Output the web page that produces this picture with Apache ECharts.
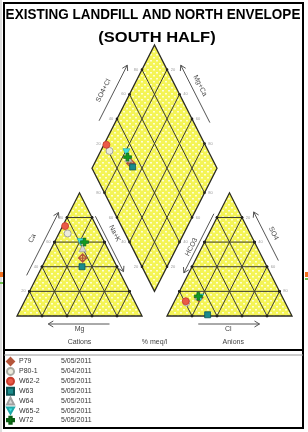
<!DOCTYPE html>
<html>
<head>
<meta charset="utf-8">
<script src="https://cdn.jsdelivr.net/npm/echarts@6/dist/echarts.min.js"></script>
<style>
  html, body { margin: 0; padding: 0; background: #fff; }
  #piper { width: 308px; height: 432px; }
</style>
</head>
<body>
<div id="piper"></div>
<script>
// samples, legend order
var samples = ['P79', 'P80-1', 'W62-2', 'W63', 'W64', 'W65-2', 'W72'];
var dates = ['5/05/2011', '5/04/2011', '5/05/2011', '5/05/2011', '5/05/2011', '5/05/2011', '5/05/2011'];
// cations, % meq/l
var ca = [47, 67, 73, 40, 55, 60, 60];
var mg = [24, 26, 25, 28, 20, 19, 16];
var naK = [29, 7, 2, 32, 25, 21, 24];
// anions, % meq/l
var so4 = [15, 11, 12, 1, 16, 15, 16];
var cl = [18, 10, 9, 32, 17, 19, 17];
var hco3 = [67, 79, 79, 67, 67, 66, 67];
var ticks = [20, 40, 60, 80];

var H = Math.sqrt(3) / 2;
var GAP = 20;

/* ternary -> plot units */
function cationXY(c, m, n) { return [n + c / 2, c * H]; }
function anionXY(s, c) { return [100 + GAP + c + s / 2, s * H]; }
var dB = [100 + GAP / 2, GAP * H];
function diamondXY(n, s) {
	return [dB[0] - (100 - n) / 2 + s / 2, dB[1] + H * ((100 - n) + s)];
}

var CAT = [[0, 0], [100, 0], [50, 100 * H]];
var ANI = [[100 + GAP, 0], [200 + GAP, 0], [150 + GAP, 100 * H]];
var DIA = [dB, [dB[0] - 50, dB[1] + 100 * H], [dB[0], dB[1] + 200 * H], [dB[0] + 50, dB[1] + 100 * H]];

function gridSegments() {
	var s = [];
	ticks.forEach(function (k) {
		s.push([cationXY(k, 100 - k, 0), cationXY(k, 0, 100 - k)]);
		s.push([cationXY(0, k, 100 - k), cationXY(100 - k, k, 0)]);
		s.push([cationXY(0, 100 - k, k), cationXY(100 - k, 0, k)]);
		s.push([anionXY(k, 0), anionXY(k, 100 - k)]);
		s.push([anionXY(0, k), anionXY(100 - k, k)]);
		s.push([anionXY(0, 100 - k), anionXY(100 - k, 0)]);
		s.push([diamondXY(k, 0), diamondXY(k, 100)]);
		s.push([diamondXY(0, k), diamondXY(100, k)]);
	});
	return s;
}

/* yellow fill with little white dots */
var tile = document.createElement('canvas');
tile.width = 6; tile.height = 6;
var tc = tile.getContext('2d');
tc.fillStyle = '#f4f456';
tc.fillRect(0, 0, 6, 6);
tc.fillStyle = '#fdfdd6';
tc.fillRect(0, 0, 2, 1.5);
tc.fillRect(3, 3, 2, 1.5);

// axis captions along edges: arrow t from->to (head at 'to'), label t, arrow/label offsets in px
var edgeText = [
	{ e: [CAT[0], CAT[1]], c: CAT, txt: 'Mg', a: [0.74, 0.25], lt: 0.5, ao: 8, lo: 13, flat: true },
	{ e: [ANI[0], ANI[1]], c: ANI, txt: 'Cl', a: [0.25, 0.74], lt: 0.49, ao: 8, lo: 13, flat: true },
	{ e: [CAT[0], CAT[2]], c: CAT, txt: 'Ca', a: [0.33, 0.84], lt: 0.63, ao: 11, lo: 24 },
	{ e: [CAT[2], CAT[1]], c: CAT, txt: 'Na+K', a: [0.19, 0.64], lt: 0.33, ao: 4, lo: 14.5 },
	{ e: [ANI[0], ANI[2]], c: ANI, txt: 'HCO3', a: [0.83, 0.35], lt: 0.56, ao: 5, lo: 10.5 },
	{ e: [ANI[2], ANI[1]], c: ANI, txt: 'SO4', a: [0.55, 0.155], lt: 0.33, ao: 14.5, lo: 23.5 },
	{ e: [DIA[1], DIA[2]], c: DIA, txt: 'SO4+Cl', a: [0.385, 0.836], lt: 0.63, ao: 17, lo: 28 },
	{ e: [DIA[2], DIA[3]], c: DIA, txt: 'Mg+Ca', a: [0.63, 0.164], lt: 0.33, ao: 16, lo: 25 }
];

function centroid(pts) {
	var x = 0, y = 0;
	pts.forEach(function (p) { x += p[0]; y += p[1]; });
	return [x / pts.length, y / pts.length];
}

function renderFrame(params, api) {
	var P = function (p) { return api.coord(p); };
	var kids = [];
	var fill = { image: tile, repeat: 'repeat' };
	[CAT, ANI, DIA].forEach(function (poly) {
		kids.push({ type: 'polygon', shape: { points: poly.map(P) }, style: { fill: fill, stroke: null } });
	});
	gridSegments().forEach(function (sg) {
		var a = P(sg[0]), b = P(sg[1]);
		kids.push({ type: 'line', shape: { x1: a[0], y1: a[1], x2: b[0], y2: b[1] }, style: { stroke: '#3a3a30', lineWidth: 1 } });
		[a, b].forEach(function (d) {
			kids.push({ type: 'circle', shape: { cx: d[0], cy: d[1], r: 1.3 }, style: { fill: '#111' } });
		});
	});
	[CAT, ANI, DIA].forEach(function (poly) {
		kids.push({ type: 'polygon', shape: { points: poly.map(P) }, style: { fill: null, stroke: '#2a2a22', lineWidth: 1.3 } });
	});

	// point on an edge at fraction t, pushed outward horizontally (or down for flat edges)
	function place(e, t, off, flat) {
		var p0 = P(e.e[0]), p1 = P(e.e[1]), c = P(centroid(e.c));
		var x = p0[0] + (p1[0] - p0[0]) * t, y = p0[1] + (p1[1] - p0[1]) * t;
		if (flat) {
			return [x, y + (y > c[1] ? off : -off)];
		}
		return [x + (x > c[0] ? off : -off), y];
	}

	edgeText.forEach(function (e) {
		var a = place(e, e.a[0], e.ao, e.flat), b = place(e, e.a[1], e.ao, e.flat);
		var dx = b[0] - a[0], dy = b[1] - a[1], len = Math.sqrt(dx * dx + dy * dy);
		var ux = dx / len, uy = dy / len;
		kids.push({ type: 'line', shape: { x1: a[0], y1: a[1], x2: b[0], y2: b[1] }, style: { stroke: '#555', lineWidth: 1 } });
		kids.push({
			type: 'polyline',
			shape: { points: [[b[0] - ux * 5 - uy * 3, b[1] - uy * 5 + ux * 3], b, [b[0] - ux * 5 + uy * 3, b[1] - uy * 5 - ux * 3]] },
			style: { stroke: '#555', fill: null, lineWidth: 1 }
		});
		var lp = place(e, e.lt, e.lo, e.flat);
		var p0 = P(e.e[0]), p1 = P(e.e[1]);
		var rot = e.flat ? 0 : Math.atan2(p0[1] - p1[1], p1[0] - p0[0]);
		kids.push({
			type: 'text', x: lp[0], y: lp[1], rotation: rot,
			style: { text: e.txt, fill: '#444', font: '7px "Liberation Sans", Arial', align: 'center', verticalAlign: 'middle' }
		});
	});

	// small percent labels outside the outer edges
	var tickEdges = [
		{ e: [CAT[0], CAT[2]], c: CAT }, { e: [ANI[2], ANI[1]], c: ANI },
		{ e: [DIA[1], DIA[2]], c: DIA }, { e: [DIA[2], DIA[3]], c: DIA },
		{ e: [DIA[0], DIA[1]], c: DIA }, { e: [DIA[0], DIA[3]], c: DIA }
	];
	tickEdges.forEach(function (e) {
		ticks.forEach(function (k) {
			var p = place(e, k / 100, 6);
			kids.push({ type: 'text', x: p[0], y: p[1], style: { text: String(k), fill: '#999', font: '4px "Liberation Sans", Arial', align: 'center', verticalAlign: 'middle' } });
		});
	});

	var base = { e: [CAT[0], CAT[1]], c: CAT };
	var aBase = { e: [ANI[0], ANI[1]], c: ANI };
	var bottom = [[place(base, 0.5, 26, true), 'Cations'], [place(aBase, 0.53, 26, true), 'Anions'], [place(base, 1.1, 26, true), '% meq/l']];
	bottom.forEach(function (b) {
		kids.push({ type: 'text', x: b[0][0], y: b[0][1], style: { text: b[1], fill: '#444', font: '7px "Liberation Sans", Arial', align: 'center', verticalAlign: 'middle' } });
	});

	return { type: 'group', children: kids };
}

var looks = {
	'P79': { symbol: 'path://M0,-6L6,0L0,6L-6,0Z M0,-6L0,6 M-6,0L6,0', size: 8, color: 'rgba(255,255,255,0)', border: '#b4553a', bw: 1.4 },
	'P80-1': { symbol: 'circle', size: 7, color: '#ecebdc', border: '#a8a8a0', bw: 1 },
	'W62-2': { symbol: 'circle', size: 7, color: '#ea5a48', border: '#c83c2c', bw: 0.8 },
	'W63': { symbol: 'rect', size: 6, color: '#1b8b8b', border: '#0c5555', bw: 0.8 },
	'W64': { symbol: 'triangle', size: 7, color: '#d6d6d6', border: '#a0a0a0', bw: 0.8 },
	'W65-2': { symbol: 'path://M-5,-4L5,-4L0,5Z', size: 7, color: '#3fe0e0', border: '#20a8a8', bw: 0.6 },
	'W72': { symbol: 'path://M-2,-6L2,-6L2,-2L6,-2L6,2L2,2L2,6L-2,6L-2,2L-6,2L-6,-2L-2,-2Z', size: 8, color: '#129a22', border: '#0a5c12', bw: 0.6 }
};

var series = [{
	type: 'custom',
	silent: true,
	clip: false,
	z: 1,
	renderItem: renderFrame,
	data: [[0, 0]]
}];

samples.forEach(function (name, i) {
	var lk = looks[name];
	series.push({
		name: name,
		type: 'scatter',
		z: 3,
		symbol: lk.symbol,
		symbolSize: lk.size,
		itemStyle: { color: lk.color, borderColor: lk.border, borderWidth: lk.bw, opacity: 1 },
		data: [
			cationXY(ca[i], mg[i], naK[i]),
			anionXY(so4[i], cl[i]),
			diamondXY(naK[i], so4[i] + cl[i])
		]
	});
});

var chart = echarts.init(document.getElementById('piper'), null, { renderer: 'canvas' });
chart.setOption({
	animation: false,
	backgroundColor: '#fff',
	grid: { left: 17, right: 16, top: 45, bottom: 116 },
	xAxis: { type: 'value', min: 0, max: 200 + GAP, show: false },
	yAxis: { type: 'value', min: 0, max: dB[1] + 200 * H, show: false },
	tooltip: { show: false },
	legend: {
		data: samples,
		orient: 'vertical',
		left: 6,
		top: 357,
		height: 75,
		padding: 0,
		itemWidth: 7,
		itemHeight: 7,
		itemGap: 0.9,
		selectedMode: false,
		textStyle: {
			fontSize: 7,
			lineHeight: 8,
			color: '#333',
			fontFamily: '"Liberation Sans", Arial',
			rich: {
				n: { width: 42, fontSize: 7, lineHeight: 8, color: '#333' },
				d: { fontSize: 7, lineHeight: 8, color: '#333' }
			}
		},
		formatter: function (name) {
			return '{n|' + name + '}{d|' + dates[samples.indexOf(name)] + '}';
		}
	},
	graphic: [
		{ type: 'line', shape: { x1: 1, y1: 0, x2: 1, y2: 432 }, style: { stroke: '#bbb', lineWidth: 1 } },
		{ type: 'rect', shape: { x: 0, y: 272, width: 3, height: 5 }, style: { fill: '#f07020' } },
		{ type: 'rect', shape: { x: 0, y: 282, width: 3, height: 2 }, style: { fill: '#70c050' } },
		{ type: 'rect', shape: { x: 305, y: 272, width: 3, height: 5 }, style: { fill: '#f07020' } },
		{ type: 'rect', shape: { x: 305, y: 278, width: 3, height: 2 }, style: { fill: '#70c050' } },
		{ type: 'rect', shape: { x: 4, y: 3, width: 299, height: 425 }, style: { fill: null, stroke: '#000', lineWidth: 2 } },
		{ type: 'line', shape: { x1: 4, y1: 350, x2: 303, y2: 350 }, style: { stroke: '#000', lineWidth: 2 } },
		{ type: 'line', shape: { x1: 4, y1: 355, x2: 303, y2: 355 }, style: { stroke: '#999', lineWidth: 1 } },
		{
			type: 'text', x: 153, y: 15, scaleX: 0.9,
			style: { text: 'EXISTING LANDFILL AND NORTH ENVELOPE', font: 'bold 15px "Liberation Sans", Arial', fill: '#000', align: 'center', verticalAlign: 'middle' }
		},
		{
			type: 'text', x: 157, y: 38, scaleX: 1.1,
			style: { text: '(SOUTH HALF)', font: 'bold 15px "Liberation Sans", Arial', fill: '#000', align: 'center', verticalAlign: 'middle' }
		}
	],
	series: series
});
</script>
</body>
</html>
